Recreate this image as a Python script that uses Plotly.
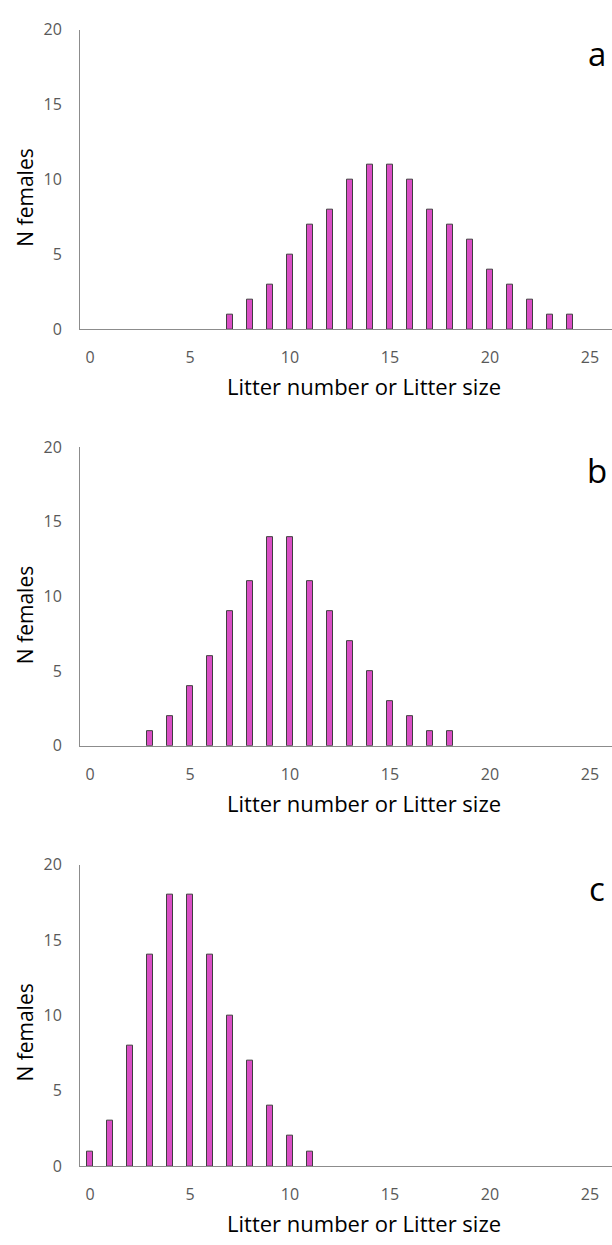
import plotly.graph_objects as go

# Data
x_a = list(range(7, 25))
n_a = [1, 2, 3, 5, 7, 8, 10, 11, 11, 10, 8, 7, 6, 4, 3, 2, 1, 1]
x_b = list(range(3, 19))
n_b = [1, 2, 4, 6, 9, 11, 14, 14, 11, 9, 7, 5, 3, 2, 1, 1]
x_c = list(range(0, 12))
n_c = [1, 3, 8, 14, 18, 18, 14, 10, 7, 4, 2, 1]
panel_letters = ["a", "b", "c"]
x_title = "Litter number or Litter size"
y_title = "N females"
x_ticks = [0, 5, 10, 15, 20, 25]
y_ticks = [0, 5, 10, 15, 20]

W, H = 612, 1245
FONT = "Open Sans"
BAR_FILL = "#D94FC4"
BAR_LINE = "#404040"
AXIS_COL = "#8c8c8c"
TICK_COL = "#595959"

# pixel extents of each panel (top, bottom) in the page
panels_px = [(19, 324), (444, 748), (869, 1176)]
left_px = 80

fig = go.Figure()
datasets = [(x_a, n_a), (x_b, n_b), (x_c, n_c)]
for i, (xs, ns) in enumerate(datasets):
    suffix = "" if i == 0 else str(i + 1)
    fig.add_trace(go.Bar(
        x=xs, y=ns, width=0.3,
        marker=dict(color=BAR_FILL, line=dict(color=BAR_LINE, width=1)),
        xaxis="x" + suffix, yaxis="y" + suffix, showlegend=False,
    ))

layout = dict(
    width=W, height=H,
    margin=dict(l=0, r=0, t=0, b=0),
    paper_bgcolor="white", plot_bgcolor="white",
    font=dict(family=FONT, color=TICK_COL),
    bargap=0,
)
annotations = []
for i, (top, bot) in enumerate(panels_px):
    suffix = "" if i == 0 else str(i + 1)
    ydom = [(H - bot) / H, (H - top) / H]
    layout["xaxis" + suffix] = dict(
        domain=[left_px / W, 1], range=[-0.5, 26.1],
        anchor="y" + suffix,
        tickmode="array", tickvals=x_ticks,
        showgrid=False, zeroline=False,
        showline=True, linecolor=AXIS_COL, linewidth=1,
        ticks="outside", ticklen=14, tickcolor="rgba(0,0,0,0)",
        tickfont=dict(size=16, color=TICK_COL, family=FONT),
    )
    layout["yaxis" + suffix] = dict(
        domain=ydom, range=[0, 20],
        anchor="x" + suffix,
        tickmode="array", tickvals=y_ticks,
        showgrid=False, zeroline=False,
        showline=True, linecolor=AXIS_COL, linewidth=1,
        ticks="outside", ticklen=14, tickcolor="rgba(0,0,0,0)",
        tickfont=dict(size=16, color=TICK_COL, family=FONT),
    )
    # x axis title
    annotations.append(dict(
        x=364 / W, y=(H - (bot + 58)) / H, xref="paper", yref="paper",
        text=x_title, showarrow=False, xanchor="center", yanchor="middle",
        font=dict(size=22, color="black", family=FONT),
    ))
    # y axis title
    annotations.append(dict(
        x=25 / W, y=(H - (top + 171)) / H, xref="paper", yref="paper",
        text=y_title, showarrow=False, textangle=-90,
        xanchor="center", yanchor="middle",
        font=dict(size=21, color="black", family=FONT),
    ))
    # panel letter
    annotations.append(dict(
        x=597 / W, y=(H - (top + 24)) / H, xref="paper", yref="paper",
        text=panel_letters[i], showarrow=False, xanchor="center", yanchor="middle",
        font=dict(size=33, color="black", family=FONT),
    ))
layout["annotations"] = annotations
fig.update_layout(**layout)
fig.write_html("out.html")
